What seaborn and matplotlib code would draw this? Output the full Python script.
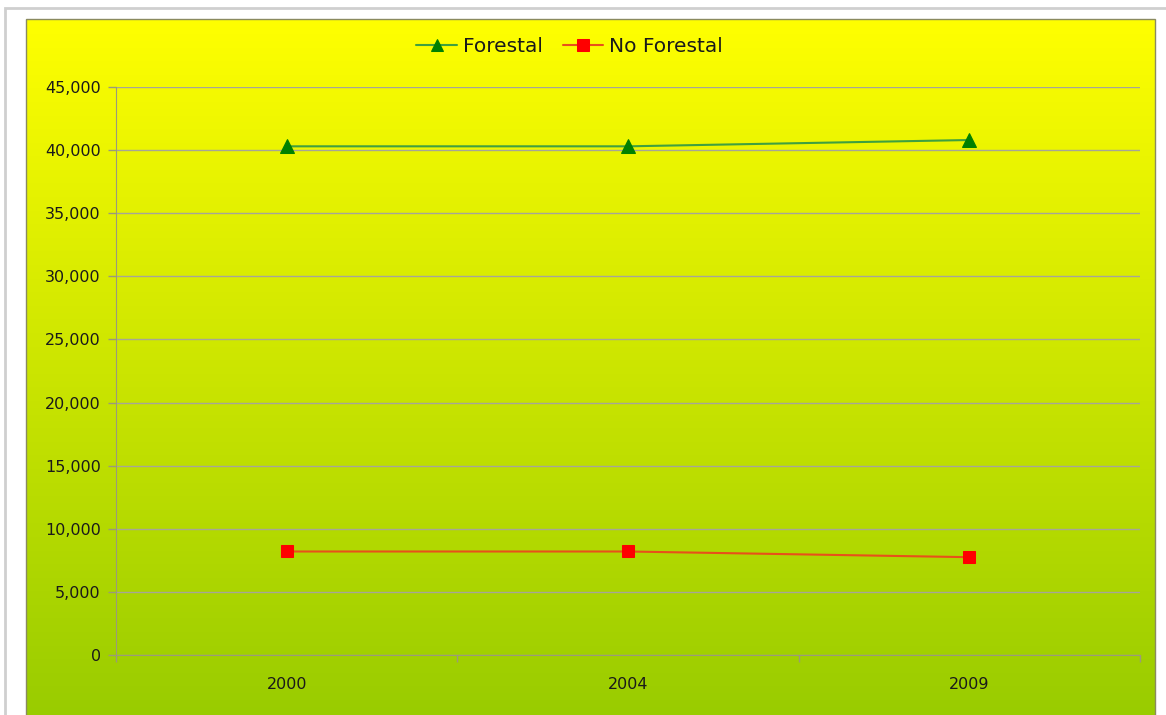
import numpy as np
import pandas as pd
import matplotlib
matplotlib.use("Agg")
import matplotlib.pyplot as plt
import seaborn as sns
from matplotlib.colors import LinearSegmentedColormap
from matplotlib.patches import Rectangle
from matplotlib.ticker import FuncFormatter, FixedLocator

years = ["2000", "2004", "2009"]
forestal = [40300, 40300, 40800]
no_forestal = [8200, 8200, 7750]
series_names = ["Forestal", "No Forestal"]

sns.set_style("white")
plt.rcParams["font.family"] = ["DejaVu Sans"]

W, H = 1166, 715
fig = plt.figure(figsize=(W / 100, H / 100), dpi=100)
fig.patch.set_facecolor("white")

# outer frame (light gray border)
fig.add_artist(Rectangle((5 / W, -0.01), 1.2, 1 - 8 / H + 0.01, transform=fig.transFigure,
                         fill=False, edgecolor="#cfcfcf", linewidth=2.0))

# chart area with vertical yellow -> green gradient
bg = fig.add_axes([26 / W, 0, (1155 - 26) / W, (H - 19) / H])
grad = np.linspace(0, 1, 256).reshape(-1, 1)
cmap = LinearSegmentedColormap.from_list("yg", ["#ffff00", "#99cc00"])
bg.imshow(grad, aspect="auto", cmap=cmap, extent=[0, 1, 0, 1], origin="upper")
bg.set_axis_off()
fig.add_artist(Rectangle((26 / W, -0.01), (1155 - 26) / W, (H - 19) / H + 0.01,
                         transform=fig.transFigure, fill=False,
                         edgecolor="#8a8a60", linewidth=1.0))

# plot area
ax = fig.add_axes([116 / W, 1 - 655 / H, (1140 - 116) / W, (655 - 87) / H])
ax.set_facecolor("none")

df = pd.DataFrame({
    "pos": list(range(len(years))) * 2,
    "value": forestal + no_forestal,
    "serie": [series_names[0]] * len(years) + [series_names[1]] * len(years),
})

sns.lineplot(data=df[df.serie == "Forestal"], x="pos", y="value", ax=ax,
             color="#3fa03f", linewidth=1.5, marker="^", markersize=10,
             markerfacecolor="#008000", markeredgecolor="#008000",
             label="Forestal")
sns.lineplot(data=df[df.serie == "No Forestal"], x="pos", y="value", ax=ax,
             color="#e8501a", linewidth=1.5, marker="s", markersize=9,
             markerfacecolor="#ff0000", markeredgecolor="#ff0000",
             label="No Forestal")

ax.set_xlim(-0.5, len(years) - 0.5)
ax.set_ylim(0, 45000)
ax.set_yticks(np.arange(0, 45001, 5000))
ax.yaxis.set_major_formatter(FuncFormatter(lambda v, p: f"{int(v):,}"))
ax.yaxis.grid(True, color="#a6a696", linewidth=1.0)
ax.set_axisbelow(True)

ax.set_xticks(range(len(years)))
ax.set_xticklabels(years)
ax.xaxis.set_minor_locator(FixedLocator(np.arange(-0.5, len(years), 1.0)))
ax.tick_params(axis="x", which="major", bottom=False, length=0, pad=16,
               labelsize=11.5, labelcolor="#1a1a1a")
ax.tick_params(axis="x", which="minor", bottom=True, length=5, color="#9a9a7a", width=1)
ax.tick_params(axis="y", left=True, length=6, color="#9a9a7a", width=1, labelsize=11.5,
               labelcolor="#1a1a1a", pad=5)

ax.set_xlabel("")
ax.set_ylabel("")
for s in ["top", "right"]:
    ax.spines[s].set_visible(False)
ax.spines["left"].set_color("#9a9a7a")
ax.spines["bottom"].set_color("#9a9a7a")

leg = ax.legend(loc="lower center", bbox_to_anchor=(0.443, 1.04), ncol=2, frameon=False,
                fontsize=14.5, handlelength=2.0, columnspacing=1.0, handletextpad=0.3,
                borderaxespad=0, markerscale=0.9)
for t in leg.get_texts():
    t.set_color("#1a1a1a")

fig.savefig("out.png", dpi=100)
